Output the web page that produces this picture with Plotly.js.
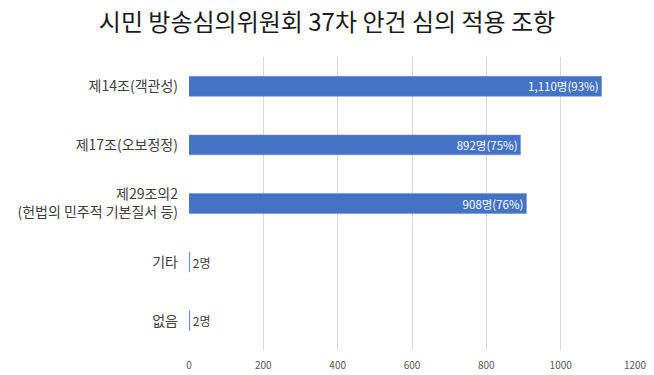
<!DOCTYPE html>
<html>
<head>
<meta charset="utf-8">
<script src="https://cdn.plot.ly/plotly-3.0.1.min.js"></script>
<style>html,body{margin:0;padding:0;background:#fff}#c{width:654px;height:375px}</style>
</head>
<body>
<div id="c"></div>
<script>
var categories = ['제14조(객관성)', '제17조(오보정정)', '제29조의2<br>(헌법의 민주적 기본질서 등)', '기타', '없음'];
var values = [1110, 892, 908, 2, 2];
var percents = [93, 75, 76, null, null];
var tickVals = [0, 200, 400, 600, 800, 1000, 1200];

var texts = values.map(function(v, i) {
  var s = v.toLocaleString('en-US') + '명';
  if (percents[i] !== null) s += '(' + percents[i] + '%)';
  return s;
});
var positions = percents.map(function(p) { return p !== null ? 'inside' : 'outside'; });

var trace = {
  type: 'bar',
  orientation: 'h',
  y: categories,
  x: values,
  text: texts,
  textposition: positions,
  insidetextanchor: 'end',
  textangle: 0,
  cliponaxis: false,
  constraintext: 'none',
  insidetextfont: {family: '"Noto Sans CJK KR", sans-serif', size: 11.5, color: '#ffffff'},
  outsidetextfont: {family: '"Noto Sans CJK KR", sans-serif', size: 12, color: '#404040'},
  marker: {color: '#4472C4', line: {color: '#6a8fd3', width: 0.5}},
  width: 0.34,
  hoverinfo: 'none'
};

var layout = {
  width: 654,
  height: 375,
  margin: {l: 189, r: 19, t: 57, b: 25},
  paper_bgcolor: '#ffffff',
  plot_bgcolor: '#ffffff',
  showlegend: false,
  title: {
    text: '시민 방송심의위원회 37차 안건 심의 적용 조항',
    font: {family: '"Noto Sans CJK KR", sans-serif', size: 24, color: '#1a1a1a'},
    x: 0.5, xanchor: 'center', y: 0.94, yanchor: 'middle'
  },
  xaxis: {
    range: [0, 1200],
    tickvals: tickVals,
    ticktext: tickVals.map(String),
    showgrid: true,
    gridcolor: '#d9d9d9',
    gridwidth: 1,
    zeroline: false,
    showline: false,
    ticks: '',
    ticklabelstandoff: 8,
    tickfont: {family: '"Noto Sans CJK KR", sans-serif', size: 10, color: '#595959'},
    fixedrange: true
  },
  yaxis: {
    type: 'category',
    autorange: 'reversed',
    showgrid: false,
    zeroline: false,
    showline: false,
    ticks: '',
    ticklabelstandoff: 10,
    tickfont: {family: '"Noto Sans CJK KR", sans-serif', size: 14, color: '#404040'},
    fixedrange: true
  }
};

Plotly.newPlot('c', [trace], layout, {displayModeBar: false, staticPlot: true});
</script>
</body>
</html>
